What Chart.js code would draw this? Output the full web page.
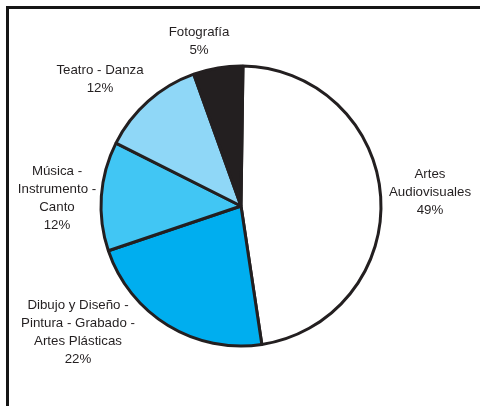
<!DOCTYPE html>
<html>
<head>
<meta charset="utf-8">
<script src="https://cdn.jsdelivr.net/npm/chart.js@4.4.1/dist/chart.umd.min.js"></script>
<style>
  html, body { margin: 0; padding: 0; background: #fff; }
  #marco {
    position: absolute; left: 6px; top: 6px; width: 480px; height: 406px;
    border-top: 3px solid #151515; border-left: 3px solid #151515;
  }
  #grafico { position: absolute; left: 0; top: 0; }
</style>
</head>
<body>
<div id="marco"></div>
<canvas id="grafico" width="480" height="406"></canvas>
<script>
// Categorías (cada línea del rótulo por separado)
const categorias = [
  ['Artes', 'Audiovisuales'],
  ['Dibujo y Diseño -', 'Pintura - Grabado -', 'Artes Plásticas'],
  ['Música -', 'Instrumento -', 'Canto'],
  ['Teatro - Danza'],
  ['Fotografía']
];
// Porcentajes tal como se leen en los rótulos
const porcentajes = ['49%', '22%', '12%', '12%', '5%'];
// Tamaño de cada porción según lo dibujado
const valores = [47.4, 22.2, 12.6, 12.1, 5.7];
const colores = ['#FFFFFF', '#00AEEF', '#41C6F4', '#8FD7F7', '#231F20'];

// Posición de cada rótulo respecto al centro de la torta
const desplazRotulos = [
  [189, -14], [-163, 126], [-184, -8], [-141, -127], [-42, -165]
];

const rotulos = {
  id: 'rotulos',
  afterDraw(chart) {
    const ctx = chart.ctx;
    const arcos = chart.getDatasetMeta(0).data;
    ctx.save();
    ctx.font = '13.3px "Liberation Sans", Arial, sans-serif';
    ctx.fillStyle = '#231F20';
    ctx.textAlign = 'center';
    ctx.textBaseline = 'middle';
    const alto = 18;
    arcos.forEach((arco, i) => {
      const lineas = categorias[i].concat([porcentajes[i]]);
      const cx = arco.x + desplazRotulos[i][0];
      const cy = arco.y + desplazRotulos[i][1];
      const y0 = cy - (lineas.length - 1) * alto / 2;
      lineas.forEach((t, j) => ctx.fillText(t, cx, y0 + j * alto));
    });
    ctx.restore();
  }
};

const ctx = document.getElementById('grafico').getContext('2d');
new Chart(ctx, {
  type: 'pie',
  data: {
    labels: categorias.map(c => c.join(' ')),
    datasets: [{
      data: valores,
      backgroundColor: colores,
      borderColor: '#231F20',
      borderWidth: 3
    }]
  },
  options: {
    responsive: false,
    animation: false,
    rotation: 0.8,
    radius: 140,
    layout: { padding: { left: 2, top: 6 } },
    plugins: {
      legend: { display: false },
      tooltip: { enabled: false }
    }
  },
  plugins: [rotulos]
});
</script>
</body>
</html>
